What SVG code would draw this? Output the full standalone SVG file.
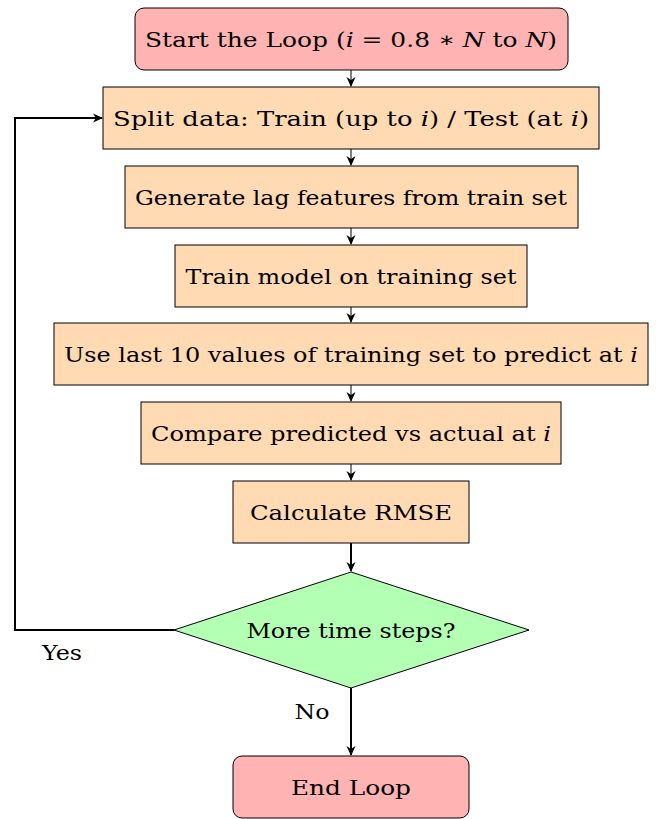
<svg xmlns="http://www.w3.org/2000/svg" width="657" height="819" viewBox="0 0 657 819">
<style>
.t{font-family:"DejaVu Serif","Liberation Serif",serif;font-size:21px;fill:#000;text-anchor:middle}
.i{font-style:italic}
.term{fill:#FFB3B3;stroke:#000;stroke-width:1}
.proc{fill:#FFDAB3;stroke:#000;stroke-width:1}
.dec{fill:#B3FFB3;stroke:#000;stroke-width:1}
.thin{fill:none;stroke:#000;stroke-width:1}
.thick{fill:none;stroke:#000;stroke-width:2}
</style>
<defs>
<marker id="ah" viewBox="0 0 10 10" refX="9" refY="5" markerWidth="10" markerHeight="10" markerUnits="userSpaceOnUse" orient="auto">
<path d="M0,0.5 L10,5 L0,9.5 L3,5 Z" fill="#000"/>
</marker>
</defs>
<g id="connectors">
<line class="thin" x1="351" y1="70" x2="351" y2="86" marker-end="url(#ah)"/>
<line class="thin" x1="351" y1="149" x2="351" y2="165" marker-end="url(#ah)"/>
<line class="thin" x1="351" y1="228" x2="351" y2="244" marker-end="url(#ah)"/>
<line class="thin" x1="351" y1="307" x2="351" y2="322" marker-end="url(#ah)"/>
<line class="thin" x1="351" y1="385" x2="351" y2="401" marker-end="url(#ah)"/>
<line class="thin" x1="351" y1="464" x2="351" y2="480" marker-end="url(#ah)"/>
<line class="thick" x1="351" y1="543" x2="351" y2="571" marker-end="url(#ah)"/>
<line class="thick" x1="351" y1="688" x2="351" y2="755" marker-end="url(#ah)"/>
<polyline class="thick" points="174,630 15,630 15,118 102,118" marker-end="url(#ah)"/>
<text class="t" x="62" y="660" textLength="40" lengthAdjust="spacingAndGlyphs">Yes</text>
<text class="t" x="312" y="719" textLength="35" lengthAdjust="spacingAndGlyphs">No</text>
</g>
<g id="start">
<rect class="term" x="135" y="8" width="433" height="62" rx="9"/>
<text class="t" x="351" y="47" textLength="412" lengthAdjust="spacingAndGlyphs">Start the Loop (<tspan class="i">i</tspan> = 0.8 ∗ <tspan class="i">N</tspan> to <tspan class="i">N</tspan>)</text>
</g>
<g id="split">
<rect class="proc" x="103" y="87" width="496" height="62"/>
<text class="t" x="351" y="126" textLength="476" lengthAdjust="spacingAndGlyphs">Split data: Train (up to <tspan class="i">i</tspan>) / Test (at <tspan class="i">i</tspan>)</text>
</g>
<g id="lag">
<rect class="proc" x="125" y="166" width="453" height="62"/>
<text class="t" x="351" y="205" textLength="432" lengthAdjust="spacingAndGlyphs">Generate lag features from train set</text>
</g>
<g id="train">
<rect class="proc" x="175" y="245" width="352" height="62"/>
<text class="t" x="351" y="284" textLength="331" lengthAdjust="spacingAndGlyphs">Train model on training set</text>
</g>
<g id="predict">
<rect class="proc" x="54" y="323" width="594" height="62"/>
<text class="t" x="351" y="362" textLength="574" lengthAdjust="spacingAndGlyphs">Use last 10 values of training set to predict at <tspan class="i">i</tspan></text>
</g>
<g id="compare">
<rect class="proc" x="141" y="402" width="420" height="62"/>
<text class="t" x="351" y="441" textLength="400" lengthAdjust="spacingAndGlyphs">Compare predicted vs actual at <tspan class="i">i</tspan></text>
</g>
<g id="rmse">
<rect class="proc" x="233" y="481" width="236" height="62"/>
<text class="t" x="351" y="520" textLength="202" lengthAdjust="spacingAndGlyphs">Calculate RMSE</text>
</g>
<g id="decision">
<polygon class="dec" points="351,572 529,630 351,688 174,630"/>
<text class="t" x="351" y="638" textLength="209" lengthAdjust="spacingAndGlyphs">More time steps?</text>
</g>
<g id="end">
<rect class="term" x="233" y="756" width="236" height="62" rx="9"/>
<text class="t" x="351" y="795" textLength="120" lengthAdjust="spacingAndGlyphs">End Loop</text>
</g>
</svg>
